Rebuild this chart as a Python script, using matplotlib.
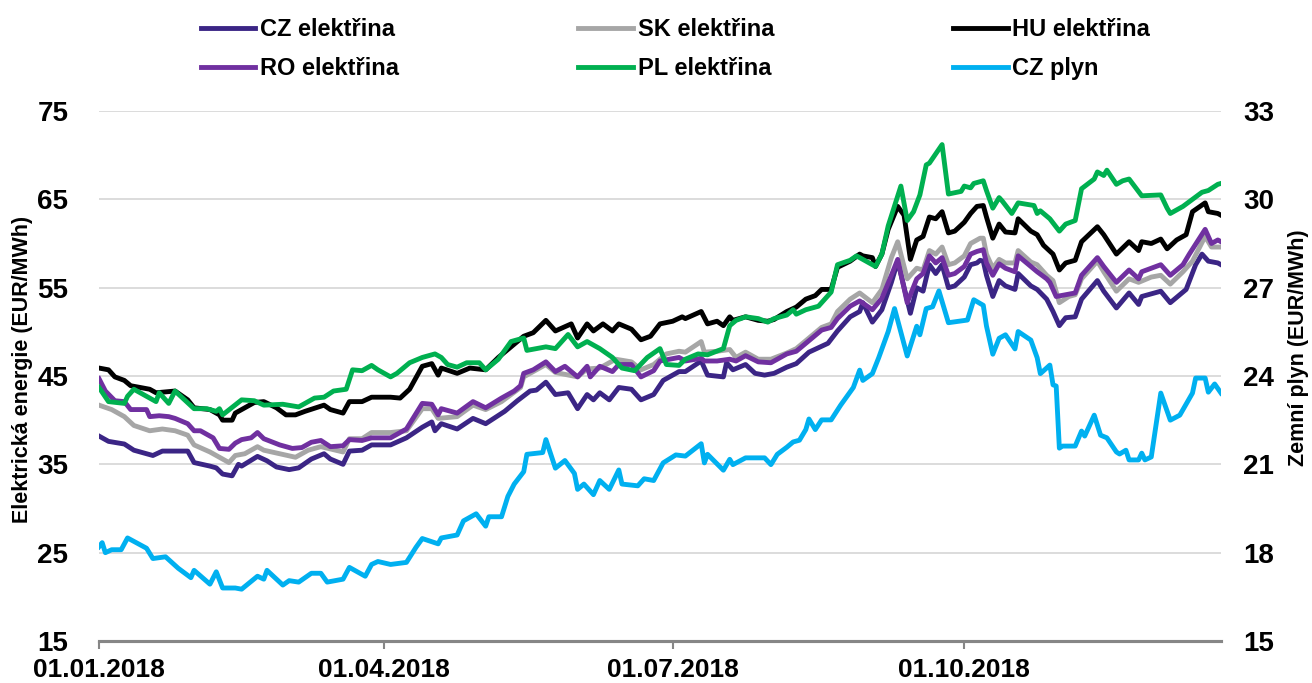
import pandas as pd
import matplotlib.pyplot as plt
import matplotlib.dates as mdates

plt.rcParams['font.family'] = ['Liberation Sans', 'DejaVu Sans']
plt.rcParams['font.weight'] = 'bold'

start = pd.Timestamp("2018-01-01")

# day offsets from 1.1.2018 and prices (EUR/MWh)
cz_days = [0, 3, 8, 11, 17, 20, 24, 28, 30, 35, 37, 39, 42, 44, 45, 50, 53, 56, 60, 63, 67, 71, 73, 77, 79, 83, 86, 92,
           97, 102, 105, 106, 108, 113, 118, 122, 128, 132, 136, 138, 141, 144, 148, 151, 154, 156, 158, 161, 164, 168,
           171, 175, 178, 183, 185, 190, 192, 197, 198, 200, 204, 207, 210, 213, 217, 220, 224, 230, 233, 237, 240, 241,
           244, 247, 250, 252, 256, 258, 260, 262, 264, 266, 268, 270, 273, 275, 277, 278, 279, 280, 282, 284, 286, 289,
           290, 294, 296, 299, 301, 303, 305, 308, 310, 315, 317, 321, 325, 328, 329, 335, 338, 343, 346, 348, 350, 353, 354]
cz_vals = [38.2, 37.6, 37.3, 36.6, 36.0, 36.5, 36.5, 36.5, 35.2, 34.8, 34.6, 33.9, 33.7, 35.0, 34.8, 35.9, 35.4, 34.7, 34.4,
           34.6, 35.6, 36.2, 35.6, 35.0, 36.5, 36.6, 37.2, 37.2,
           38.0, 39.2, 39.8, 38.8, 39.6, 39.0, 40.2, 39.6, 41.0, 42.2, 43.3, 43.4, 44.3, 42.9, 43.1, 41.3, 42.9, 42.3, 43.1,
           42.3, 43.7, 43.5, 42.3, 42.9, 44.5, 45.5, 45.5, 46.7, 45.1, 44.9, 46.5, 45.7, 46.3, 45.3, 45.1, 45.3, 46.0, 46.4,
           47.7, 48.7, 50.1, 51.7, 52.3, 53.3, 51.1, 52.5, 55.6, 58.0, 52.1, 55.0, 54.6, 57.6, 56.6, 57.6, 55.0, 55.2, 56.2,
           57.6, 57.8, 58.1, 58.0, 56.4, 54.0, 55.8, 55.2, 54.8, 56.6, 55.2, 54.8, 53.7, 52.3, 50.7, 51.6, 51.7, 53.7, 55.8,
           54.6, 52.7, 54.4, 53.1, 54.0, 54.6, 53.3, 54.8, 57.6, 58.8, 58.0, 57.8, 57.6]

sk_days = [0, 4, 8, 11, 16, 20, 24, 28, 30, 35, 38, 41, 43, 46, 50, 52, 57, 62, 66, 70, 77, 79, 83, 86, 92,
           97, 102, 105, 107, 113, 118, 122, 127, 133, 134, 141, 144, 151, 154, 158, 163, 168, 171, 175, 179, 183,
           185, 190, 191, 195, 199, 201, 204, 208, 212, 217, 220, 224, 228, 231, 233, 237, 240, 244, 247, 250, 252, 255,
           258, 260, 262, 264, 266, 268, 270, 273, 275, 278, 279, 280, 282, 284, 286, 289, 290, 294, 296, 299, 301, 303,
           306, 308, 310, 315, 317, 321, 325, 328, 332, 335, 338, 342, 345, 349, 351, 354]
sk_vals = [41.7, 41.2, 40.4, 39.4, 38.8, 39.0, 38.8, 38.3, 37.2, 36.4, 35.8, 35.2, 36.0, 36.2, 37.0, 36.6, 36.2, 35.8, 36.6,
           37.0, 36.4, 37.9, 37.9, 38.6, 38.6,
           38.8, 41.3, 41.3, 40.2, 40.4, 41.7, 41.2, 42.1, 43.7, 44.9, 46.3, 45.4, 44.9, 45.8, 45.9, 46.9, 46.6, 45.7, 46.3,
           47.5, 47.8,
           47.7, 48.9, 47.7, 47.8, 48.0, 47.1, 47.7, 46.9, 46.9, 47.6, 48.1, 49.3, 50.5, 50.9, 52.3, 53.7, 54.4, 53.3, 54.8,
           58.4, 60.2, 56.0, 57.2, 57.0, 59.2, 58.8, 59.6, 57.6, 57.8, 58.6, 60.0, 60.6, 60.6, 58.8, 57.2, 58.2, 57.8, 57.8,
           59.2, 57.9, 57.6, 56.4, 55.8, 53.3, 54.0, 54.2, 56.0, 58.0, 56.8, 54.6, 56.0, 55.6, 56.2, 56.4, 55.4, 56.8, 58.0,
           60.8, 59.6, 59.6]

hu_days = [0, 3, 5, 8, 10, 16, 18, 24, 28, 30, 35, 38, 39, 42, 43, 45, 49, 52, 56, 59, 62, 65, 71, 73, 77, 79, 83, 86,
           92, 95, 98, 102, 105, 107, 108, 113, 117, 122, 126, 130, 134, 137, 141, 144, 149, 151, 154, 156, 159, 162, 164,
           168, 171, 174, 177, 181, 184, 185, 190, 192, 195, 197, 199, 200, 204, 208, 211, 213, 217, 220, 223, 226, 228,
           231, 233, 237, 240, 241, 244, 245, 247, 249, 252, 254, 256, 258, 260, 262, 264, 266, 268, 270, 273, 275, 277,
           279, 280, 282, 284, 286, 289, 290, 294, 296, 298, 301, 303, 305, 308, 310, 315, 317, 321, 325, 328, 329, 332,
           335, 337, 340, 343, 345, 349, 350, 353, 354]
hu_vals = [45.9, 45.7, 44.9, 44.5, 43.9, 43.5, 43.1, 43.3, 42.3, 41.4, 41.2, 40.6, 40.0, 40.0, 40.8, 41.2, 42.0, 42.1, 41.4,
           40.6, 40.6, 41.0, 41.7, 41.2, 40.8, 42.1, 42.1, 42.6,
           42.6, 42.5, 43.5, 46.1, 46.4, 45.1, 45.9, 45.3, 45.9, 45.7, 47.1, 48.3, 49.5, 49.9, 51.3, 50.1, 50.9, 49.3, 50.9,
           50.1, 50.9, 50.1, 50.9, 50.3, 49.1, 49.5, 50.9, 51.2, 51.7, 51.5, 52.3, 50.9, 51.2, 50.7, 51.7, 51.3, 51.7, 51.3,
           51.2, 51.4, 52.3, 52.8, 53.7, 54.1, 54.8, 54.8, 57.3, 58.0, 58.8, 58.6, 58.4, 57.4, 58.8, 61.6, 64.2, 63.2, 58.2,
           60.4, 60.8, 63.0, 62.8, 63.6, 61.2, 61.4, 62.4, 63.4, 64.2, 64.3, 63.0, 60.6, 62.2, 61.3, 61.2, 62.8, 61.4, 61.0,
           59.8, 58.8, 57.0, 57.8, 58.1, 60.2, 61.9, 61.0, 58.8, 60.2, 59.2, 60.2, 60.0, 60.5, 59.4, 60.4, 61.0, 63.6, 64.6,
           63.6, 63.4, 63.2]

ro_days = [0, 2, 5, 8, 10, 15, 16, 19, 22, 24, 28, 30, 32, 36, 38, 41, 43, 45, 48, 50, 52, 57, 61, 64, 67, 70, 73, 77,
           79, 83, 86, 92, 97, 102, 105, 107, 108, 113, 118, 122, 127, 131, 133, 134, 137, 141, 144, 147, 151, 154, 155,
           158, 162, 164, 168, 171, 175, 177, 183, 185, 190, 191, 195, 199, 201, 204, 208, 212, 217, 220, 223, 228, 231,
           233, 237, 240, 244, 247, 250, 252, 255, 258, 260, 262, 264, 266, 268, 270, 273, 275, 277, 279, 280, 282, 284,
           286, 289, 290, 294, 296, 299, 300, 302, 305, 308, 310, 315, 317, 321, 325, 328, 329, 332, 335, 338, 342, 344,
           349, 351, 353, 354]
ro_vals = [44.7, 43.3, 42.2, 42.1, 41.2, 41.2, 40.4, 40.5, 40.4, 40.2, 39.6, 38.8, 38.8, 38.0, 36.8, 36.7, 37.4, 37.8, 38.0,
           38.6, 37.9, 37.2, 36.8, 36.9, 37.5, 37.7, 37.0, 37.1, 37.8, 37.7, 38.0, 38.0, 39.0, 41.9, 41.8, 40.6, 41.3, 40.8,
           42.1, 41.4, 42.5, 43.3, 43.9, 45.3, 45.7, 46.6, 45.5, 46.1, 44.9, 46.1, 44.9, 46.1, 45.5, 46.3, 46.3, 44.9, 45.6,
           46.7, 47.1, 46.7, 47.0, 46.7, 46.7, 46.9, 46.7, 47.3, 46.6, 46.5, 47.5, 47.8, 48.7, 50.2, 50.5, 51.5, 52.9, 53.5,
           52.5, 53.8, 56.4, 58.2, 53.3, 56.0, 56.6, 58.6, 57.8, 58.4, 56.4, 56.6, 57.4, 58.8, 59.1, 59.3, 57.8, 56.4, 57.7,
           57.2, 56.8, 58.6, 57.4, 56.8, 56.0, 55.6, 54.0, 54.2, 54.4, 56.4, 58.4, 57.4, 55.6, 57.0, 56.0, 56.8, 57.2, 57.6,
           56.4, 57.6, 58.8, 61.6, 60.0, 60.4, 60.2]

pl_days = [0, 3, 8, 9, 11, 15, 18, 19, 22, 24, 27, 30, 34, 37, 38, 39, 45, 49, 52, 58, 63, 68, 71, 74, 78, 80, 83, 86,
           88, 92, 94, 98, 102, 106, 108, 110, 113, 116, 120, 122, 126, 130, 134, 135, 138, 141, 144, 148, 151, 154, 158,
           162, 165, 169, 173, 177, 179, 183, 185, 189, 192, 197, 199, 201, 204, 208, 211, 213, 217, 219, 220, 223, 227,
           231, 233, 237, 239, 241, 245, 247, 249, 253, 255, 257, 259, 261, 262, 266, 268, 272, 273, 275, 276, 279, 280,
           282, 284, 285, 288, 290, 295, 296, 297, 300, 303, 305, 308, 310, 314, 315, 317, 318, 321, 323, 325, 329, 335,
           337, 338, 342, 345, 348, 350, 353, 354]
pl_vals = [43.7, 42.1, 41.9, 42.7, 43.5, 42.7, 42.1, 43.1, 41.9, 43.3, 42.3, 41.3, 41.3, 41.0, 41.3, 40.6, 42.3, 42.2, 41.7,
           41.8, 41.5, 42.5, 42.6, 43.3, 43.5, 45.7, 45.6, 46.2, 45.7, 44.9, 45.3, 46.5, 47.1, 47.5, 47.1, 46.3, 46.0, 46.5,
           46.5, 45.7, 46.9, 48.9, 49.3, 47.9, 48.1, 48.3, 48.1, 49.7, 48.3, 48.9, 48.1, 47.1, 45.9, 45.6, 47.1, 48.1, 46.3,
           46.2, 46.9, 47.5, 47.4, 48.1, 50.7, 51.3, 51.7, 51.5, 51.1, 51.5, 51.9, 52.5, 52.0, 52.5, 52.9, 54.5, 57.6, 58.1,
           58.6, 58.2, 57.4, 58.8, 62.0, 66.5, 62.6, 63.6, 65.5, 68.9, 69.1, 71.2, 65.6, 65.9, 66.5, 66.3, 66.8, 67.1, 66.0,
           64.0, 65.2, 64.8, 63.4, 64.6, 64.3, 63.4, 63.7, 62.8, 61.4, 62.2, 62.6, 66.2, 67.3, 68.1, 67.7, 68.3, 66.7, 67.1,
           67.3, 65.4, 65.5, 64.0, 63.4, 64.2, 65.0, 65.8, 66.0, 66.7, 66.8]

gas_days = [0, 1, 2, 4, 7, 9, 15, 17, 21, 25, 29, 30, 35, 37, 39, 43, 45, 50, 52, 53, 58, 60, 63, 67, 70, 72, 77, 79, 84,
            86, 88, 92, 97, 100, 102, 107, 108, 113, 115, 119, 122, 123, 127, 129, 131, 134, 135, 140, 141, 144, 147, 150,
            151, 153, 156, 158, 161, 164, 165, 170, 172, 175, 178, 182, 185, 190, 191, 192, 197, 199, 200, 204, 210, 212,
            214, 217, 219, 221, 223, 224, 226, 228, 231, 234, 238, 240, 241, 244, 246, 249, 251, 255, 258, 259, 261, 263,
            265, 268, 274, 276, 279, 280, 282, 284, 286, 289, 290, 294, 296, 297, 300, 301, 302, 303, 304, 308, 310, 311,
            314, 316, 318, 321, 322, 324, 325, 328, 329, 330, 332, 335, 338, 341, 345, 346, 349, 350, 352, 354]
gas_vals = [18.2, 18.34, 18.0, 18.1, 18.1, 18.5, 18.15, 17.8, 17.86, 17.47, 17.15, 17.4, 16.93, 17.35, 16.8, 16.8, 16.76,
            17.2, 17.1, 17.4, 16.9, 17.05, 17.0, 17.3, 17.3, 17.0, 17.1, 17.5, 17.2, 17.6, 17.7, 17.6, 17.67, 18.18, 18.48,
            18.3, 18.5, 18.6, 19.08, 19.32, 18.9, 19.22, 19.22, 19.91, 20.33, 20.75, 21.34, 21.4, 21.84, 20.87, 21.13,
            20.69, 20.15, 20.33, 19.97, 20.45, 20.15, 20.81, 20.33, 20.27, 20.51, 20.45, 21.05, 21.32, 21.28, 21.7, 21.05,
            21.34, 20.8, 21.17, 20.99, 21.22, 21.22, 20.99, 21.34, 21.58, 21.76, 21.82, 22.18, 22.54, 22.18, 22.51, 22.51,
            23.01, 23.61, 24.2, 23.85, 24.08, 24.62, 25.51, 26.29, 24.68, 25.69, 25.4, 26.29, 26.35, 26.89, 25.81, 25.9,
            26.59, 26.4, 25.7, 24.74, 25.28, 25.4, 24.92, 25.51, 25.22, 24.62, 24.08, 24.37, 23.7, 23.66, 21.55, 21.62,
            21.62, 22.13, 21.96, 22.67, 21.99, 21.9, 21.42, 21.35, 21.48, 21.15, 21.15, 21.38, 21.15, 21.25, 23.42, 22.5,
            22.67, 23.42, 23.93, 23.93, 23.45, 23.73, 23.42]

labels = ["CZ elektřina", "SK elektřina", "HU elektřina", "RO elektřina", "PL elektřina", "CZ plyn"]
colors = ["#3b2585", "#a6a6a6", "#000000", "#7030a0", "#00b050", "#00b0f0"]


def to_dates(days):
    return start + pd.to_timedelta(days, unit="D")


fig = plt.figure(figsize=(13.12, 6.83), dpi=100)
ax = fig.add_axes([99 / 1312, 1 - 641 / 683, 1122 / 1312, 530 / 683])
ax2 = ax.twinx()

lw = 3.5
elec = [(cz_days, cz_vals), (sk_days, sk_vals), (hu_days, hu_vals), (ro_days, ro_vals), (pl_days, pl_vals)]
handles = []
for (d, v), lab, c in zip(elec, labels[:5], colors[:5]):
    h, = ax.plot(to_dates(d), v, color=c, lw=lw, label=lab, solid_joinstyle="round")
    handles.append(h)
h, = ax2.plot(to_dates(gas_days), gas_vals, color=colors[5], lw=lw, label=labels[5], solid_joinstyle="round")
handles.append(h)

ax.set_ylim(15, 75)
ax.set_yticks(range(15, 76, 10))
ax2.set_ylim(15, 33)
ax2.set_yticks(range(15, 34, 3))
ax.set_xlim(start, start + pd.Timedelta(days=354))

ax.set_xticks([pd.Timestamp("2018-01-01"), pd.Timestamp("2018-04-01"),
               pd.Timestamp("2018-07-01"), pd.Timestamp("2018-10-01")])
ax.xaxis.set_major_formatter(mdates.DateFormatter("%d.%m.%Y"))

ax.yaxis.grid(True, color="#d9d9d9", lw=1.3)
ax.set_axisbelow(True)

for a in (ax, ax2):
    for s in ("top", "left", "right"):
        a.spines[s].set_visible(False)
    a.spines["bottom"].set_color("#868686")
    a.spines["bottom"].set_linewidth(2.2)

ax.tick_params(axis="x", direction="out", length=6, width=1.5, color="#868686", labelsize=19, pad=6)
ax.tick_params(axis="y", length=0, labelsize=20, pad=22)
ax2.tick_params(axis="y", length=0, labelsize=20, pad=16)

ax.set_ylabel("Elektrická energie (EUR/MWh)", fontsize=15.5, fontweight="bold")
ax.yaxis.set_label_coords(-0.059, 0.513)
ax2.set_ylabel("Zemní plyn (EUR/MWh)", fontsize=15.5, fontweight="bold")
ax2.yaxis.set_label_coords(1.060, 0.553)

order = [0, 3, 1, 4, 2, 5]
fig.legend([handles[i] for i in order], [labels[i] for i in order], ncol=3, loc="upper center",
           bbox_to_anchor=(0.515, 1.005), frameon=False, prop={"size": 17, "weight": "bold"},
           handlelength=2.3, handletextpad=0.2, columnspacing=7.6, labelspacing=0.68)

fig.savefig("out.png", dpi=100)
